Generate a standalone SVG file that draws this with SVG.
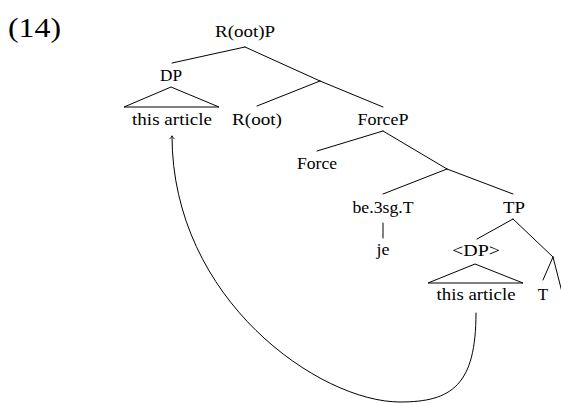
<svg xmlns="http://www.w3.org/2000/svg" width="561" height="403" viewBox="0 0 561 403">
<style>
text{font-family:Liberation Serif, Times New Roman, Times, DejaVu Serif, serif;font-size:17px;fill:#000;text-anchor:middle}
.e{stroke:#000;stroke-width:1;fill:none;stroke-linecap:round}
.tri{stroke:#000;stroke-width:1;fill:none;stroke-linejoin:miter}
</style>
<defs>
<marker id="ah" markerUnits="userSpaceOnUse" markerWidth="10" markerHeight="10" viewBox="-5 -5 10 10" refX="0" refY="0" orient="auto" overflow="visible">
<path d="M-3.2,-2.6 Q-1,-0.6 0,0 Q-1,0.6 -3.2,2.6" fill="none" stroke="#000" stroke-width="0.8"/>
</marker>
</defs>
<text x="8" y="37" font-family="Liberation Serif" style="text-anchor:start;font-size:28px" textLength="53" lengthAdjust="spacingAndGlyphs">(14)</text>
<g id="connectors">
<line class="e" x1="245" y1="47" x2="172" y2="63"/>
<line class="e" x1="245" y1="47" x2="320" y2="81"/>
<line class="e" x1="320" y1="81" x2="257" y2="106"/>
<line class="e" x1="320" y1="81" x2="383" y2="107"/>
<line class="e" x1="383" y1="131" x2="317" y2="151"/>
<line class="e" x1="383" y1="131" x2="447" y2="169"/>
<line class="e" x1="447" y1="169" x2="383" y2="194"/>
<line class="e" x1="447" y1="169" x2="513" y2="194"/>
<line class="e" x1="383" y1="223" x2="383" y2="238"/>
<line class="e" x1="513" y1="219" x2="477" y2="239"/>
<line class="e" x1="513" y1="219" x2="553" y2="257"/>
<line class="e" x1="553" y1="257" x2="543" y2="280"/>
<line class="e" x1="553" y1="257" x2="563" y2="296"/>
<path class="e" d="M476,313 C476,385 452,402 400,402 C320,402 172,300 172,136" marker-end="url(#ah)"/>
</g>
<g id="n-rootP"><text x="245" y="37" textLength="60" lengthAdjust="spacingAndGlyphs">R(oot)P</text></g>
<g id="n-DP"><text x="171" y="81" textLength="22" lengthAdjust="spacingAndGlyphs">DP</text>
<polygon class="tri" points="171,87 124,107 219,107"/></g>
<g id="n-this1"><text x="172" y="125" textLength="80" lengthAdjust="spacingAndGlyphs">this article</text></g>
<g id="n-root"><text x="257" y="125" textLength="50" lengthAdjust="spacingAndGlyphs">R(oot)</text></g>
<g id="n-forceP"><text x="383" y="125" textLength="51" lengthAdjust="spacingAndGlyphs">ForceP</text></g>
<g id="n-force"><text x="317" y="169" textLength="40" lengthAdjust="spacingAndGlyphs">Force</text></g>
<g id="n-be"><text x="383" y="213" textLength="61" lengthAdjust="spacingAndGlyphs">be.3sg.T</text></g>
<g id="n-TP"><text x="514" y="213" textLength="22" lengthAdjust="spacingAndGlyphs">TP</text></g>
<g id="n-je"><text x="383" y="255" textLength="13" lengthAdjust="spacingAndGlyphs">je</text></g>
<g id="n-DP2"><text x="476" y="256" textLength="48" lengthAdjust="spacingAndGlyphs">&lt;DP&gt;</text>
<polygon class="tri" points="475,264 428,283 523,283"/></g>
<g id="n-this2"><text x="476" y="300" textLength="79" lengthAdjust="spacingAndGlyphs">this article</text></g>
<g id="n-T"><text x="543" y="300">T</text></g>
</svg>
